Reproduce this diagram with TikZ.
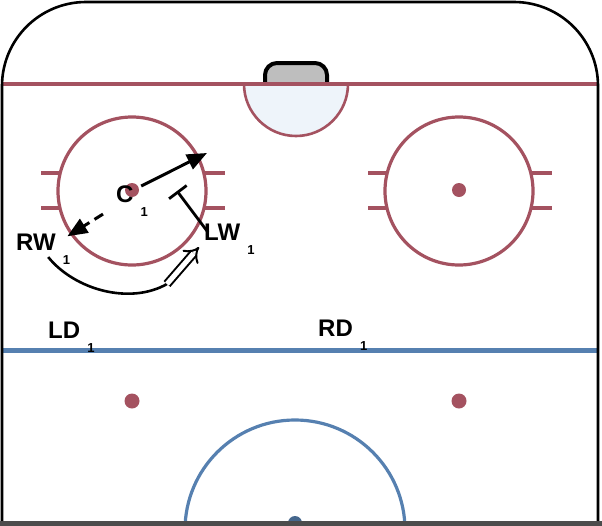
\documentclass[tikz,border=0pt]{standalone}
\usepackage{fontspec}
\setmainfont{Liberation Sans}
\usetikzlibrary{arrows.meta}
\definecolor{rinkred}{RGB}{164,82,96}
\definecolor{rinkblue}{RGB}{86,128,176}
\definecolor{creaseblue}{RGB}{238,244,250}
\definecolor{netgray}{RGB}{190,190,190}
\newcommand{\plr}[2]{#1\raisebox{-0.62em}{\hspace{0.3em}\fontsize{13}{13}\selectfont #2}}
\tikzset{
  player/.style={font=\fontsize{24}{24}\selectfont\bfseries,inner sep=0pt,anchor=base west},
  redline/.style={rinkred,line width=3.2pt},
  pass/.style={line width=3pt,-{Triangle[length=20pt,width=16pt]}},
  carry/.style={line width=2pt,double distance=5pt,-{Implies}},
}
\begin{document}
\begin{tikzpicture}[x=1pt,y=-1pt]
\useasboundingbox (0,0) rectangle (602,525);
% crease and net
\draw[redline,line width=2.6pt,fill=creaseblue] (244,84) arc[start angle=180,end angle=0,radius=52];
\draw[line width=4pt,fill=netgray,rounded corners=12] (265,85) -- (265,63) -- (327,63) -- (327,85);
\draw[redline,line width=3.6pt] (2,84) -- (598,84);
% circles
\foreach \cx in {132,459}{
  \draw[redline] (\cx,191) circle[radius=74];
  \foreach \hy in {173,208}{
    \draw[redline] (\cx-72,\hy) -- (\cx-91,\hy);
    \draw[redline] (\cx+72,\hy) -- (\cx+93,\hy);
  }
  \fill[rinkred] (\cx,190) circle[radius=7];
  \fill[rinkred] (\cx,401) circle[radius=7.5];
}
\draw[rinkblue,line width=5pt] (2,350) -- (598,350);
\begin{scope}
\clip (0,0) rectangle (602,521);
\draw[rinkblue,line width=3.2pt] (295,530) circle[radius=110];
\fill[rinkblue!80!black] (295,523) circle[radius=7];
\end{scope}
% boards
\draw[line width=2.6pt] (2,522) -- (2,86) arc[start angle=180,end angle=270,radius=84]
  -- (514,2) arc[start angle=270,end angle=360,radius=84] -- (598,522);
\draw[black!70,line width=5pt] (0,523) -- (602,523);
% players
\node[player] (C) at (116,202) {\plr{C}{1}};
\node[player] (RW) at (16,250) {\plr{RW}{1}};
\node[player] (LW) at (204,240) {\plr{LW}{1}};
\node[player] (LD) at (48,338) {\plr{LD}{1}};
\node[player] (RD) at (318,336) {\plr{RD}{1}};
\coordinate (shot) at (207,153);
\draw[pass] ([xshift=-7pt,yshift=-1pt]C.north east) -- (shot);
\draw[pass,dash pattern=on 10pt off 6pt] ([xshift=-13pt,yshift=3pt]C.south west) -- ([xshift=-3pt,yshift=-3pt]RW.north east);
\draw[line width=2.8pt,-{Bar[width=22pt]}] ([xshift=4pt,yshift=-9pt]LW.north west) -- (177,191);
\draw[line width=2.6pt] ([xshift=5pt,yshift=8pt]RW.south) .. controls (75,290) and (130,305) .. (167,284) coordinate (hand);
\draw[carry] (hand) -- ([xshift=-5pt,yshift=8pt]LW.south west);
\end{tikzpicture}
\end{document}
